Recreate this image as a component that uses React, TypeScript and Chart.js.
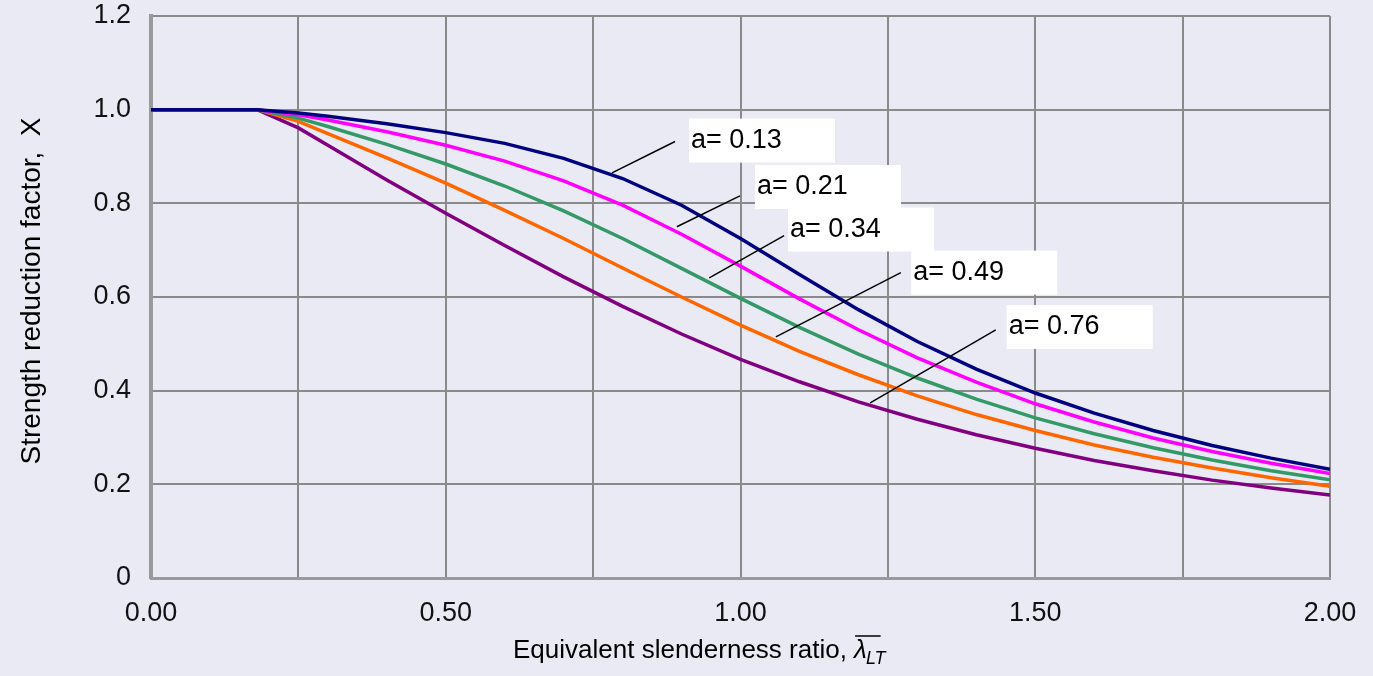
import React, { useEffect, useRef } from "react";
import { Chart, registerables } from "chart.js";

Chart.register(...registerables);

// Equivalent slenderness ratio (x) values
const lambdaValues = [0, 0.18, 0.25, 0.3, 0.4, 0.5, 0.6, 0.7, 0.8, 0.9, 1.0, 1.1, 1.2, 1.3, 1.4, 1.5, 1.6, 1.7, 1.8, 1.9, 2.0];

// Strength reduction factor values, one list per curve
const chi013 = [1, 1, 0.993, 0.986, 0.970, 0.951, 0.928, 0.896, 0.853, 0.796, 0.725, 0.648, 0.573, 0.505, 0.446, 0.395, 0.352, 0.315, 0.283, 0.256, 0.232];
const chi021 = [1, 1, 0.989, 0.978, 0.953, 0.924, 0.890, 0.848, 0.796, 0.734, 0.666, 0.596, 0.530, 0.470, 0.418, 0.372, 0.333, 0.299, 0.270, 0.245, 0.223];
const chi034 = [1, 1, 0.982, 0.964, 0.926, 0.884, 0.837, 0.784, 0.725, 0.661, 0.597, 0.535, 0.478, 0.427, 0.382, 0.342, 0.308, 0.278, 0.252, 0.229, 0.210];
const chi049 = [1, 1, 0.975, 0.949, 0.897, 0.843, 0.785, 0.725, 0.662, 0.600, 0.540, 0.484, 0.434, 0.389, 0.349, 0.315, 0.284, 0.258, 0.235, 0.214, 0.196];
const chi076 = [1, 1, 0.961, 0.924, 0.850, 0.779, 0.710, 0.643, 0.580, 0.521, 0.467, 0.419, 0.376, 0.339, 0.306, 0.277, 0.251, 0.229, 0.209, 0.192, 0.177];

const seriesNames = ["a= 0.13", "a= 0.21", "a= 0.34", "a= 0.49", "a= 0.76"];
const seriesColors = ["#000080", "#ff00ff", "#339966", "#ff6600", "#800080"];

// Label annotations in data units: leader line start (x,y), end (x,y), text anchor (x,y)
const labelLineStart = [[0.782, 0.865], [0.892, 0.750], [0.947, 0.641], [1.060, 0.515], [1.220, 0.374]];
const labelLineEnd = [[0.889, 0.932], [0.999, 0.816], [1.074, 0.731], [1.272, 0.652], [1.433, 0.530]];
const labelTextPos = [[0.916, 0.934], [1.028, 0.835], [1.084, 0.744], [1.293, 0.652], [1.455, 0.536]];

const xTickStep = 0.25;
const yTickStep = 0.2;
const xTitle = "Equivalent slenderness ratio, ";
const xTitleSymbol = "λ";
const xTitleSub = "LT";
const yTitle = "Strength reduction factor,  X";

const BG = "#eaeaf4";
const FONT = "'Liberation Sans', Arial, sans-serif";
const FS = 27;

export default function App() {
  const ref = useRef<HTMLCanvasElement>(null);

  useEffect(() => {
    document.body.style.margin = "0";
    document.body.style.background = BG;
    const allSeries = [chi013, chi021, chi034, chi049, chi076];

    const annotations = {
      id: "annotations",
      beforeDatasetsDraw(chart: any) {
        const { ctx, scales } = chart;
        ctx.save();
        ctx.fillStyle = "#ffffff";
        labelTextPos.forEach((p) => {
          const x = scales.x.getPixelForValue(p[0]);
          const y = scales.y.getPixelForValue(p[1]);
          ctx.fillRect(x - 2, y - 22, 146, 44);
        });
        ctx.restore();
      },
      afterDatasetsDraw(chart: any) {
        const { ctx, scales } = chart;
        ctx.save();
        ctx.strokeStyle = "#000";
        ctx.lineWidth = 1.5;
        labelLineStart.forEach((s, i) => {
          const e = labelLineEnd[i];
          ctx.beginPath();
          ctx.moveTo(scales.x.getPixelForValue(s[0]), scales.y.getPixelForValue(s[1]));
          ctx.lineTo(scales.x.getPixelForValue(e[0]), scales.y.getPixelForValue(e[1]));
          ctx.stroke();
        });
        ctx.font = `${FS}px ${FONT}`;
        ctx.fillStyle = "#000";
        ctx.textAlign = "left";
        ctx.textBaseline = "middle";
        labelTextPos.forEach((p, i) => {
          ctx.fillText(seriesNames[i], scales.x.getPixelForValue(p[0]), scales.y.getPixelForValue(p[1]));
        });
        ctx.restore();
      },
      afterDraw(chart: any) {
        const { ctx } = chart;
        ctx.save();
        ctx.fillStyle = "#000";
        // x title
        const tfs = 26;
        ctx.font = `${tfs}px ${FONT}`;
        ctx.textBaseline = "alphabetic";
        ctx.textAlign = "left";
        const x0 = 513;
        const yb = 658;
        ctx.fillText(xTitle, x0, yb);
        const w1 = ctx.measureText(xTitle).width;
        ctx.font = `italic ${tfs}px ${FONT}`;
        ctx.fillText(xTitleSymbol, x0 + w1, yb);
        const w2 = ctx.measureText(xTitleSymbol).width;
        ctx.font = `italic ${Math.round(tfs * 0.7)}px ${FONT}`;
        ctx.fillText(xTitleSub, x0 + w1 + w2 - 1, yb + 6);
        const w3 = ctx.measureText(xTitleSub).width;
        ctx.strokeStyle = "#000";
        ctx.lineWidth = 1.5;
        ctx.beginPath();
        ctx.moveTo(x0 + w1 + 1, yb - 22);
        ctx.lineTo(x0 + w1 + w2 + w3 * 0.7, yb - 22);
        ctx.stroke();
        // y title
        ctx.font = `28px ${FONT}`;
        ctx.translate(32, 291);
        ctx.rotate(-Math.PI / 2);
        ctx.textAlign = "center";
        ctx.textBaseline = "middle";
        ctx.fillText(yTitle, 0, 0);
        ctx.restore();
      },
    };

    const chart = new Chart(ref.current as HTMLCanvasElement, {
      type: "scatter",
      data: {
        datasets: allSeries.map((vals, i) => ({
          label: seriesNames[i],
          data: lambdaValues.map((x, j) => ({ x, y: vals[j] })),
          borderColor: seriesColors[i],
          backgroundColor: seriesColors[i],
          borderWidth: 3.5,
          showLine: true,
          pointRadius: 0,
          tension: 0,
          fill: false,
        })),
      },
      options: {
        animation: false,
        responsive: false,
        layout: { padding: { top: 16, right: 43, left: 0, bottom: 0 } },
        plugins: { legend: { display: false }, tooltip: { enabled: false } },
        scales: {
          x: {
            type: "linear",
            min: 0,
            max: 2,
            afterFit: (s: any) => {
              s.height = 98;
              s.paddingLeft = 0;
              s.paddingRight = 0;
            },
            ticks: {
              stepSize: xTickStep,
              autoSkip: false,
              maxRotation: 0,
              padding: 19,
              color: "#111",
              font: { family: FONT, size: FS },
              callback: (v: any) => {
                const n = Number(v);
                return Math.abs(n * 2 - Math.round(n * 2)) < 1e-6 ? n.toFixed(2) : "";
              },
            },
            grid: { color: "#8a8a8a", lineWidth: 2, drawTicks: false },
            border: { display: true, color: "#9a9a9a", width: 3 },
          },
          y: {
            type: "linear",
            min: 0,
            max: 1.2,
            afterFit: (s: any) => {
              s.width = 151;
              s.paddingTop = 0;
              s.paddingBottom = 0;
            },
            ticks: {
              stepSize: yTickStep,
              padding: 20,
              color: "#111",
              font: { family: FONT, size: FS },
              callback: (v: any) => {
                const n = Math.round(Number(v) * 10) / 10;
                return n === 0 ? "0" : n.toFixed(1);
              },
            },
            grid: { color: "#8a8a8a", lineWidth: 2, drawTicks: false },
            border: { display: true, color: "#9a9a9a", width: 4 },
          },
        },
      },
      plugins: [annotations],
    } as any);

    return () => chart.destroy();
  }, []);

  return (
    <div style={{ width: 1373, height: 676, background: BG }}>
      <canvas ref={ref} width={1373} height={676} style={{ display: "block" }} />
    </div>
  );
}
